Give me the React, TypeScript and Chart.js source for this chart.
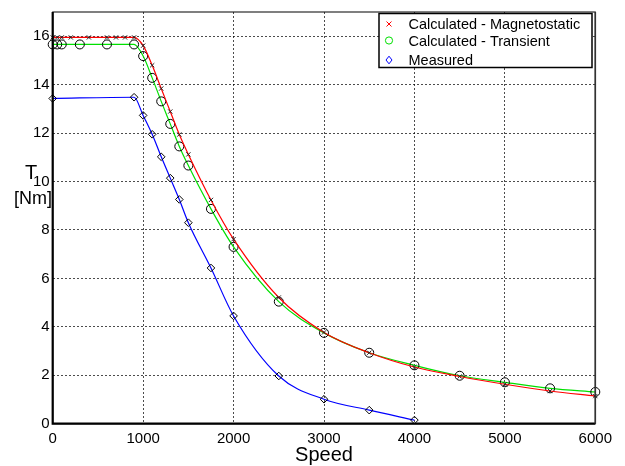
import React, { useEffect, useRef } from "react";
import { Chart, registerables } from "chart.js";

Chart.register(...registerables);

const speedMag = [0, 50, 100, 200, 400, 600, 700, 800, 900, 1000, 1100, 1200, 1300, 1400, 1500, 1750, 2000, 2500, 3000, 3500, 4000, 4500, 5000, 5500, 6000];
const torqueMag = [15.95, 15.95, 15.95, 15.95, 15.95, 15.95, 15.95, 15.95, 15.95, 15.61, 14.8, 13.84, 12.89, 11.94, 11.12, 9.24, 7.62, 5.21, 3.77, 2.93, 2.34, 1.95, 1.63, 1.35, 1.14];

const speedTrans = [0, 50, 100, 300, 600, 900, 1000, 1100, 1200, 1300, 1400, 1500, 1750, 2000, 2500, 3000, 3500, 4000, 4500, 5000, 5500, 6000];
const torqueTrans = [15.66, 15.66, 15.66, 15.66, 15.66, 15.66, 15.18, 14.28, 13.31, 12.38, 11.45, 10.66, 8.87, 7.3, 5.04, 3.75, 2.93, 2.41, 1.98, 1.71, 1.46, 1.31];

const speedMeas = [0, 900, 1000, 1100, 1200, 1300, 1400, 1500, 1750, 2000, 2500, 3000, 3500, 4000];
const torqueMeas = [13.43, 13.48, 12.73, 11.95, 11.02, 10.14, 9.26, 8.3, 6.43, 4.45, 1.97, 1.01, 0.56, 0.15];

const seriesNames = ["Calculated - Magnetostatic", "Calculated - Transient", "Measured"];
const seriesColors = ["#ff0000", "#00e000", "#0000ff"];
const xTicks = [0, 1000, 2000, 3000, 4000, 5000, 6000];
const yTicks = [0, 2, 4, 6, 8, 10, 12, 14, 16];
const xTitle = "Speed";
const yTitle = ["T", "[Nm]"];

const FONT = "'Liberation Sans', Arial, Helvetica, sans-serif";

function toPts(xs: number[], ys: number[]) {
  return xs.map((x, i) => ({ x, y: ys[i] }));
}

const decorPlugin = {
  id: "decor",
  afterDatasetsDraw(chart: any) {
    const { ctx, chartArea } = chart;
    const { left, right, top, bottom } = chartArea;
    ctx.save();
    // frame
    ctx.strokeStyle = "#000";
    ctx.lineWidth = 1;
    ctx.strokeRect(left, top, right - left, bottom - top);
    ctx.lineWidth = 2.2;
    ctx.beginPath();
    ctx.moveTo(left, top);
    ctx.lineTo(left, bottom);
    ctx.lineTo(right, bottom);
    ctx.stroke();
    ctx.strokeStyle = "#333";
    ctx.lineWidth = 1.6;
    ctx.beginPath();
    ctx.moveTo(right, top);
    ctx.lineTo(right, bottom);
    ctx.stroke();

    // titles
    ctx.fillStyle = "#000";
    ctx.textAlign = "center";
    ctx.textBaseline = "alphabetic";
    ctx.font = `20px ${FONT}`;
    ctx.fillText(xTitle, (left + right) / 2, 461);
    ctx.font = `20px ${FONT}`;
    ctx.fillText(yTitle[0], 31, 178.5);
    ctx.font = `18px ${FONT}`;
    ctx.fillText(yTitle[1], 33, 204);

    // legend
    const bx = 379, by = 13.5, bw = 213, bh = 54;
    ctx.fillStyle = "#fff";
    ctx.fillRect(bx, by, bw, bh);
    ctx.strokeStyle = "#000";
    ctx.lineWidth = 1.5;
    ctx.strokeRect(bx, by, bw, bh);
    const rows = [24, 40.5, 60];
    ctx.font = `14.5px ${FONT}`;
    ctx.textAlign = "left";
    ctx.textBaseline = "middle";
    rows.forEach((ry, i) => {
      const mx = 389;
      ctx.strokeStyle = seriesColors[i];
      ctx.lineWidth = 1;
      ctx.beginPath();
      if (i === 0) {
        ctx.moveTo(mx - 2.5, ry - 2.5); ctx.lineTo(mx + 2.5, ry + 2.5);
        ctx.moveTo(mx - 2.5, ry + 2.5); ctx.lineTo(mx + 2.5, ry - 2.5);
      } else if (i === 1) {
        ctx.arc(mx, ry, 3.6, 0, Math.PI * 2);
      } else {
        ctx.moveTo(mx, ry - 3.8); ctx.lineTo(mx + 3, ry); ctx.lineTo(mx, ry + 3.8); ctx.lineTo(mx - 3, ry); ctx.closePath();
      }
      ctx.stroke();
      ctx.fillStyle = "#000";
      ctx.fillText(seriesNames[i], 408.5, ry + 1);
    });
    ctx.restore();
  },
};

export default function App() {
  const ref = useRef<HTMLCanvasElement | null>(null);
  useEffect(() => {
    if (!ref.current) return;
    const chart = new Chart(ref.current, {
      type: "scatter",
      data: {
        datasets: [
          {
            label: seriesNames[0],
            data: toPts(speedMag, torqueMag),
            showLine: true,
            borderColor: seriesColors[0],
            borderWidth: 1.2,
            cubicInterpolationMode: "monotone",
            pointStyle: "crossRot",
            pointRadius: 3,
            pointBorderColor: "#222",
            pointBackgroundColor: "transparent",
            pointBorderWidth: 1,
            clip: false,
            order: 1,
          },
          {
            label: seriesNames[1],
            data: toPts(speedTrans, torqueTrans),
            showLine: true,
            borderColor: seriesColors[1],
            borderWidth: 1.2,
            cubicInterpolationMode: "monotone",
            pointStyle: "circle",
            pointRadius: 4.5,
            pointBorderColor: "#000",
            pointBackgroundColor: "transparent",
            pointBorderWidth: 1,
            clip: false,
            order: 2,
          },
          {
            label: seriesNames[2],
            data: toPts(speedMeas, torqueMeas),
            showLine: true,
            borderColor: seriesColors[2],
            borderWidth: 1.2,
            cubicInterpolationMode: "monotone",
            pointStyle: "rectRot",
            pointRadius: 3.8,
            pointBorderColor: "#000",
            pointBackgroundColor: "transparent",
            pointBorderWidth: 1,
            clip: false,
            order: 3,
          },
        ] as any,
      },
      options: {
        animation: false,
        responsive: true,
        maintainAspectRatio: false,
        layout: { padding: { left: 0, right: 29.7, top: 8.3, bottom: 0 } },
        plugins: { legend: { display: false }, tooltip: { enabled: false }, title: { display: false } },
        scales: {
          x: {
            type: "linear",
            min: 0,
            max: 6000,
            afterFit: (s: any) => { s.height = 42.3; },
            afterBuildTicks: (s: any) => { s.ticks = xTicks.map((v) => ({ value: v })); },
            ticks: { color: "#000", font: { family: FONT, size: 15 }, padding: 6, maxRotation: 0, autoSkip: false, callback: (v: any) => String(v) },
            grid: { color: "rgba(0,0,0,0.7)", lineWidth: 1, drawTicks: false },
            border: { display: false, dash: [2, 2] },
          },
          y: {
            type: "linear",
            min: 0,
            max: 17,
            afterFit: (s: any) => { s.width = 52.7; },
            afterBuildTicks: (s: any) => { s.ticks = yTicks.map((v) => ({ value: v })); },
            ticks: { color: "#000", font: { family: FONT, size: 15 }, padding: 3, autoSkip: false, callback: (v: any) => String(v) },
            grid: { color: "rgba(0,0,0,0.7)", lineWidth: 1, drawTicks: false },
            border: { display: false, dash: [2, 2] },
          },
        },
      },
      plugins: [decorPlugin],
    });
    return () => chart.destroy();
  }, []);
  return (
    <div style={{ position: "absolute", left: 0, top: 0, width: 625, height: 466, background: "#fff" }}>
      <canvas ref={ref} />
    </div>
  );
}
